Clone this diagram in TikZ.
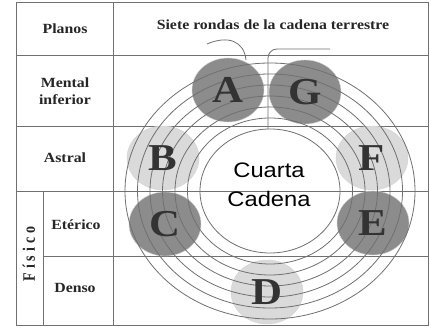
\documentclass[tikz,border=0pt]{standalone}
\usepackage{fontspec}
\setmainfont{Liberation Serif}
\newfontfamily\cadenafont{Liberation Sans}
\usetikzlibrary{positioning,shapes.geometric}
\definecolor{oscuro}{HTML}{8C8C8C}
\definecolor{claro}{HTML}{DADADA}
\definecolor{linea}{HTML}{707070}
\newcommand{\ancho}[1]{\scalebox{1.13}[1]{#1}}

\begin{document}
\begin{tikzpicture}[x=1pt, y=-1pt,
  tabla/.style={draw=linea, line width=1pt},
  rotulo/.style={font=\bfseries\fontsize{14}{17}\selectfont, align=center, text=black!85},
  ronda/.style={draw=linea, line width=0.8pt},
  globo/.style={ellipse, minimum width=72pt, minimum height=64pt, inner sep=0pt, draw=white!70!linea, line width=0.4pt},
  letra/.style={font=\bfseries\fontsize{38}{38}\selectfont, text=black!80}]
  \fill[white] (0,0) rectangle (430,326);
  \useasboundingbox (0,0) rectangle (430,326);

  % planos
  \draw[tabla] (16,3) rectangle (428,325);
  \draw[tabla] (113,3) -- (113,325);
  \draw[tabla] (43,191) -- (43,325);
  \foreach \y in {56,126,191}
    \draw[tabla] (16,\y) -- (428,\y);
  \draw[tabla] (43,256) -- (428,256);

  \node[rotulo] (planos) at (65,29) {\ancho{Planos}};
  \node[rotulo] (rondas) at (273,25) {\ancho{Siete rondas de la cadena terrestre}};
  \node[rotulo] (mental) at (65,91) {\ancho{Mental}\\\ancho{inferior}};
  \node[rotulo] (astral) at (65,158) {\ancho{Astral}};
  \node[rotulo, rotate=90] (fisico) at (29,254)
    {\scalebox{1}[1.25]{F\hspace{4pt}í\hspace{4pt}s\hspace{4pt}i\hspace{4pt}c\hspace{4pt}o}};
  \node[rotulo] (eterico) at (76,225) {\ancho{Etérico}};
  \node[rotulo] (denso) at (75,288) {\ancho{Denso}};

  % globos
  \node[globo, fill=oscuro] (A) at (228,90) {};
  \node[globo, fill=oscuro] (G) at (305,92) {};
  \node[globo, fill=claro] (B) at (163,158) {};
  \node[globo, fill=claro] (F) at (372,158) {};
  \node[globo, fill=oscuro] (C) at (165,224) {};
  \node[globo, fill=oscuro] (E) at (373,223) {};
  \node[globo, fill=claro] (D) at (267,292) {};

  % espiral
  \coordinate (centro) at (270,191);
  \foreach \k in {0,...,6}
    \draw[ronda] (centro) ellipse [x radius={70pt+12.5pt*\k}, y radius={62pt+11pt*\k}];
  \coordinate (cima) at (268,129);
  \draw[ronda, rounded corners=9pt] (cima) -- (268,49) -- (330,49);
  \draw[ronda] (207,44) .. controls (228,35) and (244,41) .. (246,60);

  \foreach \n in {A,B,C,D,E,F,G}
    \node[letra] (l\n) at (\n) {\ancho{\n}};

  \node[font=\cadenafont\fontsize{21}{29}\selectfont, align=center] (cuarta) at (269,185)
    {\ancho{Cuarta}\\\ancho{Cadena}};
\end{tikzpicture}
\end{document}
